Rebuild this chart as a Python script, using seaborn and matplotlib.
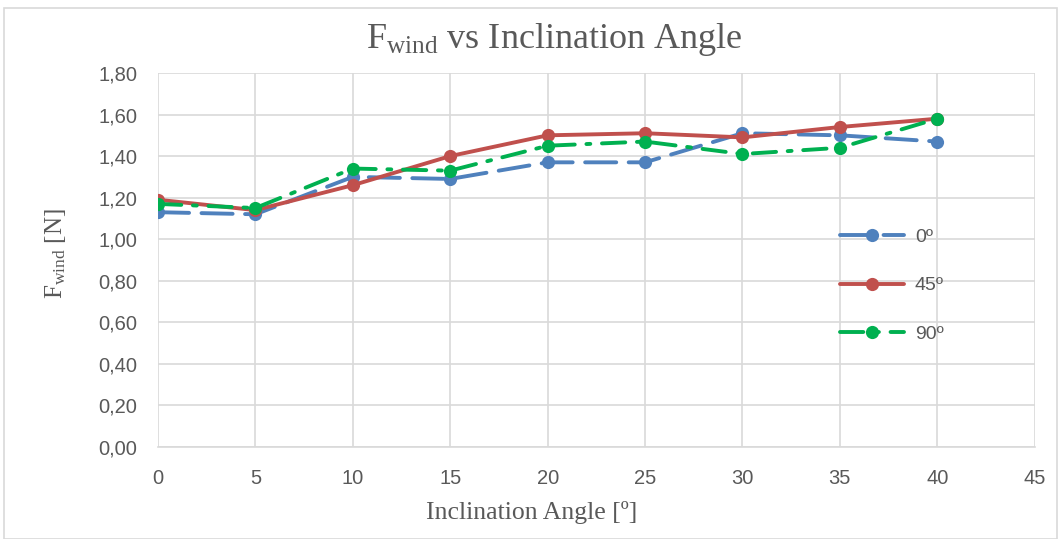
import matplotlib
matplotlib.use("Agg")
import matplotlib.pyplot as plt
import matplotlib.ticker as mticker
from matplotlib.patches import Rectangle
import seaborn as sns
import pandas as pd

# Measured wind force for three orientations
angles = [0, 5, 10, 15, 20, 25, 30, 35, 40]
f_0 = [1.13, 1.12, 1.30, 1.29, 1.37, 1.37, 1.51, 1.50, 1.47]
f_45 = [1.19, 1.14, 1.26, 1.40, 1.50, 1.51, 1.49, 1.54, 1.58]
f_90 = [1.17, 1.15, 1.34, 1.33, 1.45, 1.47, 1.41, 1.44, 1.58]
series_labels = ["0º", "45º", "90º"]

sns.set_theme(style="whitegrid")
plt.rcParams["font.family"] = ["Liberation Sans", "DejaVu Sans"]
plt.rcParams["mathtext.fontset"] = "custom"
plt.rcParams["mathtext.rm"] = "Liberation Serif"
plt.rcParams["mathtext.it"] = "Liberation Serif:italic"

fig = plt.figure(figsize=(10.58, 5.39), dpi=100)
ax = fig.add_axes([0.1493, 0.1707, 0.8287, 0.6939])

styles = [
    dict(color="#4F81BD", dashes=(8, 3.2)),
    dict(color="#C0504D", dashes=None),
    dict(color="#00B050", dashes=(6, 3, 1, 3)),
]

for vals, lab, st in zip([f_0, f_45, f_90], series_labels, styles):
    df = pd.DataFrame({"angle": angles, "force": vals})
    line_kw = dict(lw=2.8, marker="o", markersize=9.5, markeredgewidth=0,
                   color=st["color"], label=lab)
    sns.lineplot(data=df, x="angle", y="force", ax=ax, **line_kw)
    ln = ax.lines[-1]
    if st["dashes"] is not None:
        ln.set_dashes(st["dashes"])
        ln.set_dash_capstyle("round")

ax.set_xlim(0, 45)
ax.set_ylim(0, 1.8)
ax.xaxis.set_major_locator(mticker.MultipleLocator(5))
ax.yaxis.set_major_locator(mticker.MultipleLocator(0.2))
ax.yaxis.set_major_formatter(mticker.FuncFormatter(lambda v, p: f"{v:.2f}".replace(".", ",")))

ax.grid(True, color="#D9D9D9", lw=1.2)
for s in ["top", "right", "left"]:
    ax.spines[s].set_visible(False)
ax.spines["bottom"].set_visible(True)
ax.spines["bottom"].set_color("#D9D9D9")
ax.spines["bottom"].set_linewidth(1.2)
ax.tick_params(axis="both", labelsize=14.5, colors="#595959", length=0)
ax.tick_params(axis="x", pad=16)
ax.tick_params(axis="y", pad=15)

ax.set_xlabel("")
ax.set_ylabel("")

# Axis titles and chart title, placed on the figure
fig.text(532 / 1058, 1 - 512 / 539, "Inclination Angle [º]", family="Liberation Serif",
         fontsize=18.5, color="#595959", ha="center", va="center")
fig.text(56 / 1058, 1 - 254 / 539, r"F$_{\mathrm{wind}}$ [N]", family="Liberation Serif",
         fontsize=18, color="#595959", ha="center", va="center", rotation=90)
fig.text(554 / 1058, 1 - 39 / 539, r"F$_{\mathrm{wind}}$ vs Inclination Angle",
         family="Liberation Serif", fontsize=26, color="#595959", ha="center", va="center")

leg = ax.legend(loc="upper left", bbox_to_anchor=(0.758, 0.632), frameon=False,
                fontsize=14, labelspacing=1.6, handlelength=3.3,
                handletextpad=0.55, labelcolor="#595959")

# Chart border
fig.patches.append(Rectangle((0.004, 0.0), 0.995, 0.985, transform=fig.transFigure,
                             fill=False, edgecolor="#D9D9D9", lw=1.2))

fig.savefig("out.png", dpi=100, facecolor="white")
